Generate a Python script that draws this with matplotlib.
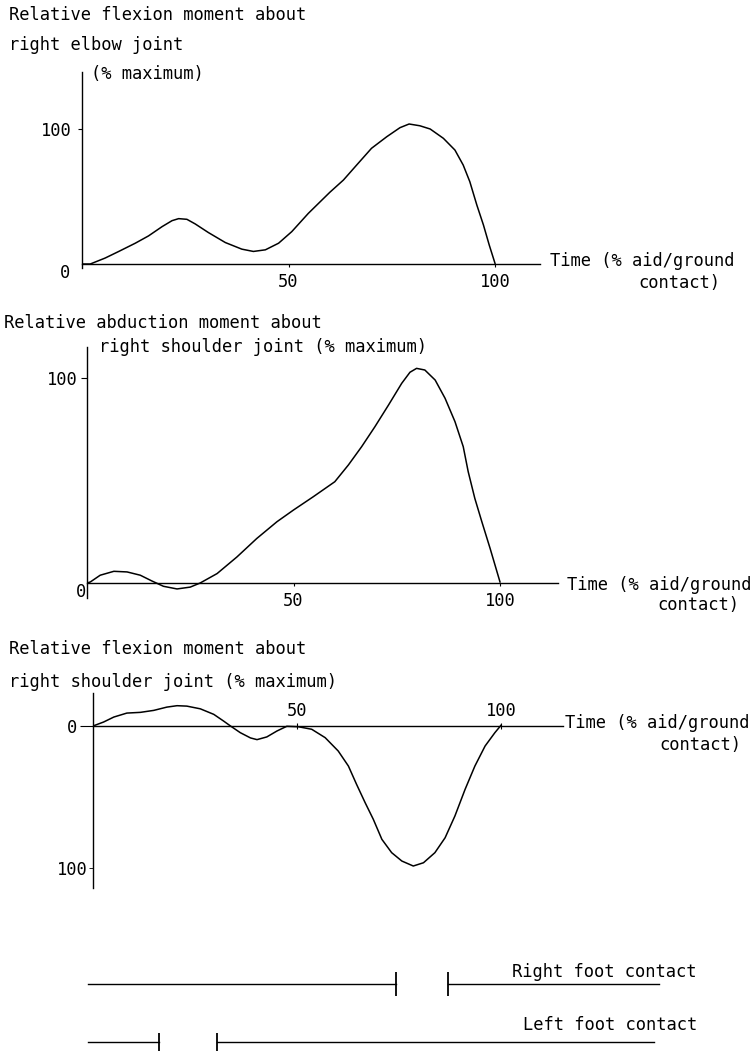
import matplotlib
matplotlib.use('Agg')
import matplotlib.pyplot as plt

# ---- data (time in % of aid/ground contact) ----
elbow_t = [0, 2.0, 5.6, 8.9, 12.9, 16.1, 19.4, 21.8, 23.4, 25.4, 27.4, 30.6, 34.7, 38.7, 41.5,
           44.4, 47.6, 50.8, 54.8, 58.9, 60.0, 63.3, 66.5, 70.1, 73.8, 77.0, 79.2, 81.8,
           84.3, 87.5, 90.3, 92.3, 93.9, 95.6, 97.2, 98.6, 100]
elbow_v = [0, 0, 4.4, 9.3, 15.4, 20.8, 27.7, 32.1, 33.6, 33.1, 29.7, 23.3, 15.9, 11.0, 9.3,
           10.5, 15.4, 24.0, 37.5, 49.8, 53.1, 62.2, 73.3, 85.7, 94.3, 101.0, 103.7, 102.4,
           100.0, 93.1, 84.4, 73.3, 61.0, 43.7, 28.9, 14.1, 0.5]

abd_t = [0, 0.8, 3.2, 6.5, 9.7, 12.9, 15.7, 18.5, 21.8, 25.0, 27.4, 31.5, 36.3, 41.1, 46.0,
         50.0, 54.8, 60.0, 63.3, 66.5, 69.7, 73.0, 76.2, 78.2, 79.8, 81.8, 84.3,
         86.7, 89.1, 91.1, 92.3, 93.9, 95.6, 97.6, 100]
abd_v = [0, 0.5, 3.8, 5.7, 5.4, 3.8, 1.0, -1.6, -2.9, -2.0, 0, 4.6, 12.7, 21.7, 29.9,
         35.6, 42.1, 49.4, 57.6, 66.5, 76.2, 86.8, 97.4, 102.8, 104.7, 103.9, 99.0,
         90.1, 78.7, 66.5, 54.3, 41.3, 29.9, 16.9, 0.5]

# flexion about shoulder: positive values plotted downwards (axis labelled 100 below)
shflex_t = [0, 2.6, 5.1, 8.3, 11.6, 14.9, 18.1, 20.6, 23.0, 26.3, 29.6, 32.0, 33.7, 36.1,
            38.6, 40.2, 42.6, 45.1, 47.5, 50.3, 53.6, 56.9, 60.1, 62.6, 64.6, 66.7, 68.7,
            70.8, 73.2, 75.7, 78.5, 81.0, 83.8, 86.3, 88.7, 91.2, 93.6, 96.1, 98.5, 100]
shflex_v = [0, -2.8, -6.3, -9.1, -9.6, -11.0, -13.3, -14.3, -14.0, -12.1, -8.2, -3.5, 0, 4.7,
            8.4, 9.6, 7.7, 3.5, 0.2, 0.5, 2.3, 8.2, 17.6, 28.2, 41.1, 54.0, 65.7,
            79.8, 89.2, 95.1, 98.6, 96.3, 89.2, 78.7, 63.4, 44.6, 28.2, 14.1, 4.7, -0.5]

right_foot = [(-1.2, 74.3), (87.0, 138.7)]
left_foot = [(-1.2, 16.2), (30.4, 137.5)]

xticks = [50, 100]

W, H = 753, 1052
plt.rcParams['font.family'] = ['DejaVu Sans Mono']
plt.rcParams['font.size'] = 12.3

fig = plt.figure(figsize=(W / 100, H / 100), dpi=100)
PT = 0.72  # points per pixel at 100 dpi


def panel(left, right, top, bottom, t0, t100, v0, v100):
    # place an axes by pixel box and pick limits so t/v land on given pixels
    ax = fig.add_axes([left / W, 1 - bottom / H, (right - left) / W, (bottom - top) / H])
    sx = (t100 - t0) / 100.0
    sy = (v100 - v0) / 100.0
    ax.set_xlim((left - t0) / sx, (right - t0) / sx)
    ax.set_ylim((bottom - v0) / sy, (top - v0) / sy)
    ax.patch.set_alpha(0)
    for s in ['top', 'right', 'bottom', 'left']:
        ax.spines[s].set_linewidth(1.0)
    ax.spines['right'].set_visible(False)
    return ax


def ftext(x, y, s, ha='left'):
    fig.text(x / W, 1 - y / H, s, ha=ha, va='center')


# ---- panel 1: elbow flexion ----
ax1 = panel(82, 540, 72, 268, 82, 495, 264, 129)
ax1.plot(elbow_t, elbow_v, color='black', lw=1.1)
ax1.spines['top'].set_visible(False)
ax1.spines['bottom'].set_position(('data', 0))
ax1.set_xticks(xticks, labels=[str(x) for x in xticks])
ax1.tick_params(axis='x', direction='out', length=3 * PT, pad=6 * PT)
ax1.set_yticks([100], labels=['100'])
ax1.set_yticks([0], labels=['0'], minor=True)
ax1.tick_params(axis='y', which='major', length=4 * PT, pad=6 * PT)
ax1.tick_params(axis='y', which='minor', length=0, pad=12 * PT)
for t in ax1.yaxis.get_minor_ticks():
    t.label1.set_va('top')

ftext(9, 15, 'Relative flexion moment about')
ftext(9, 45, 'right elbow joint')
ftext(91, 74, '(% maximum)')
ftext(550, 261, 'Time (% aid/ground')
ftext(720, 283, 'contact)', ha='right')

# ---- panel 2: shoulder abduction ----
ax2 = panel(87, 558, 347, 598, 87, 500, 583, 378)
ax2.plot(abd_t, abd_v, color='black', lw=1.1)
ax2.spines['top'].set_visible(False)
ax2.spines['bottom'].set_position(('data', 0))
ax2.set_xticks(xticks, labels=[str(x) for x in xticks])
ax2.tick_params(axis='x', direction='out', length=3 * PT, pad=6 * PT)
ax2.set_yticks([100], labels=['100'])
ax2.set_yticks([0], labels=['0'], minor=True)
ax2.tick_params(axis='y', which='major', length=6 * PT, pad=3 * PT)
ax2.tick_params(axis='y', which='minor', length=0, pad=1 * PT)
for t in ax2.yaxis.get_minor_ticks():
    t.label1.set_va('top')

ftext(4, 323, 'Relative abduction moment about')
ftext(99, 347, 'right shoulder joint (% maximum)')
ftext(567, 585, 'Time (% aid/ground')
ftext(739, 605, 'contact)', ha='right')

# ---- panel 3: shoulder flexion (100 plotted downward) ----
ax3 = panel(93, 563, 693, 888, 93, 501, 726, 868)
ax3.plot(shflex_t, shflex_v, color='black', lw=1.1)
ax3.spines['bottom'].set_visible(False)
ax3.spines['top'].set_position(('data', 0))
ax3.xaxis.set_ticks_position('top')
ax3.set_xticks(xticks, labels=[str(x) for x in xticks])
ax3.tick_params(axis='x', direction='inout', length=6 * PT, pad=3 * PT)
ax3.set_yticks([0], labels=['0'])
ax3.set_yticks([100], labels=['100'], minor=True)
ax3.tick_params(axis='y', which='major', length=13 * PT, pad=3 * PT)
ax3.tick_params(axis='y', which='minor', length=4 * PT, pad=1 * PT)

ftext(9, 649, 'Relative flexion moment about')
ftext(9, 682, 'right shoulder joint (% maximum)')
ftext(565, 723, 'Time (% aid/ground')
ftext(741, 745, 'contact)', ha='right')

# ---- foot contact bars (same time scale as panel 3) ----
axf = panel(80, 700, 960, 1052, 93, 501, 1042, 1042 - 58 * 100)
axf.axis('off')
for y, segs, tick_h in [(1, right_foot, 17.5), (0, left_foot, 13)]:
    for i, (a, b) in enumerate(segs):
        axf.plot([a, b], [y, y], color='black', lw=1.0)
        end = b if i == 0 else a
        axf.plot([end], [y], marker='|', ms=tick_h, mew=1.3, color='black')

ftext(697, 972, 'Right foot contact', ha='right')
ftext(697, 1025, 'Left foot contact', ha='right')

fig.savefig('out.png', dpi=100)
